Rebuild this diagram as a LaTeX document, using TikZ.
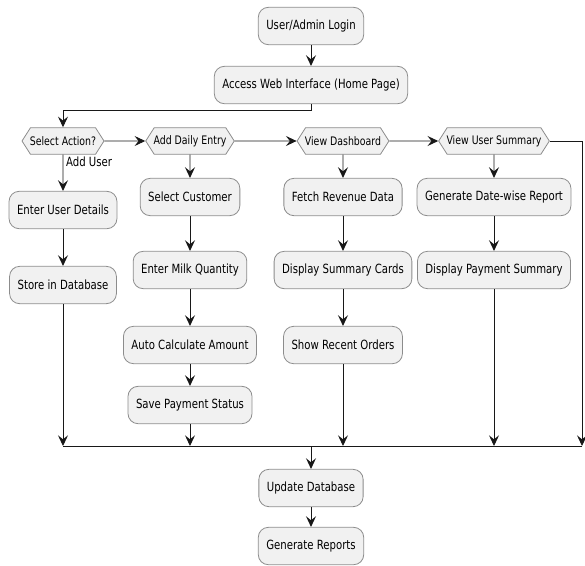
\documentclass[tikz,border=0pt]{standalone}
\usepackage{fontspec}
\setmainfont{DejaVu Sans}[FakeStretch=0.8]
\usetikzlibrary{shapes.symbols, arrows.meta, positioning}

\definecolor{boxfill}{HTML}{F1F1F1}
\definecolor{boxline}{HTML}{8C8C8C}
\definecolor{flowline}{HTML}{181818}

\begin{document}
\begin{tikzpicture}[
            x=0.75pt, y=-0.75pt,
            font=\fontsize{9.5}{11}\selectfont,
            act/.style={draw=boxline, fill=boxfill, rounded corners=7.5pt, line width=0.6pt,
                        minimum height=28pt, inner xsep=6pt},
            choice/.style={draw=boxline, fill=boxfill, shape=signal, signal to=west and east,
                           signal pointer angle=115, line width=0.6pt, minimum height=20pt,
                           inner xsep=-0.5pt, font=\fontsize{8.8}{10}\selectfont},
            arr/.style={draw=flowline, line width=0.7pt, -{Stealth[length=8pt, width=7.5pt, inset=3pt]}},
            ln/.style={draw=flowline, line width=0.7pt}
        ]
        \useasboundingbox (0,0) rectangle (585,565);

        % top
        \node[act] (login)  at (311,26) {User/Admin Login};
        \node[act] (access) at (311,85) {Access Web Interface (Home Page)};

        % choices
        \node[choice] (sel)   at (63,141)  {Select Action?};
        \node[choice] (daily) at (190,141) {Add Daily Entry};
        \node[choice] (dash)  at (343,141) {View Dashboard};
        \node[choice] (summ)  at (494,141) {View User Summary};

        % add user column
        \node[act] (details) at (63,210) {Enter User Details};
        \node[act] (store)   at (63,285) {Store in Database};

        % daily entry column
        \node[act] (cust) at (190,197) {Select Customer};
        \node[act] (milk) at (190,270) {Enter Milk Quantity};
        \node[act] (calc) at (190,345) {Auto Calculate Amount};
        \node[act] (pay)  at (190,405) {Save Payment Status};

        % dashboard column
        \node[act] (fetch)  at (343,197) {Fetch Revenue Data};
        \node[act] (cards)  at (343,270) {Display Summary Cards};
        \node[act] (orders) at (343,345) {Show Recent Orders};

        % summary column
        \node[act] (report) at (494,197) {Generate Date-wise Report};
        \node[act] (paysum) at (494,270) {Display Payment Summary};

        % bottom
        \node[act] (upd) at (311,488) {Update Database};
        \node[act] (gen) at (311,546) {Generate Reports};

        % merge points
        \coordinate (m1) at (63,446);
        \coordinate (m2) at (190,446);
        \coordinate (m3) at (343,446);
        \coordinate (m4) at (494,446);
        \coordinate (m5) at (582,446);
        \coordinate (mid) at (311,446);
        \coordinate (rgt) at (582,141);

        \draw[arr] (login) -- (access);
        \draw[arr] (access.south) -- ++(0,6) -| (sel.north);

        \draw[arr] (sel) -- (daily);
        \draw[arr] (daily) -- (dash);
        \draw[arr] (dash) -- (summ);
        \draw[arr] (summ.east) -- (rgt) -- (m5);

        \draw[arr] (sel) -- node[right, pos=0.2, inner sep=2pt] {Add User} (details);
        \draw[arr] (details) -- (store);
        \draw[arr] (store) -- (m1);

        \draw[arr] (daily) -- (cust);
        \draw[arr] (cust) -- (milk);
        \draw[arr] (milk) -- (calc);
        \draw[arr] (calc) -- (pay);
        \draw[arr] (pay) -- (m2);

        \draw[arr] (dash) -- (fetch);
        \draw[arr] (fetch) -- (cards);
        \draw[arr] (cards) -- (orders);
        \draw[arr] (orders) -- (m3);

        \draw[arr] (summ) -- (report);
        \draw[arr] (report) -- (paysum);
        \draw[arr] (paysum) -- (m4);

        \draw[ln] (m1) -- (m5);
        \draw[arr] (mid) -- (upd);
        \draw[arr] (upd) -- (gen);
    \end{tikzpicture}
\end{document}
